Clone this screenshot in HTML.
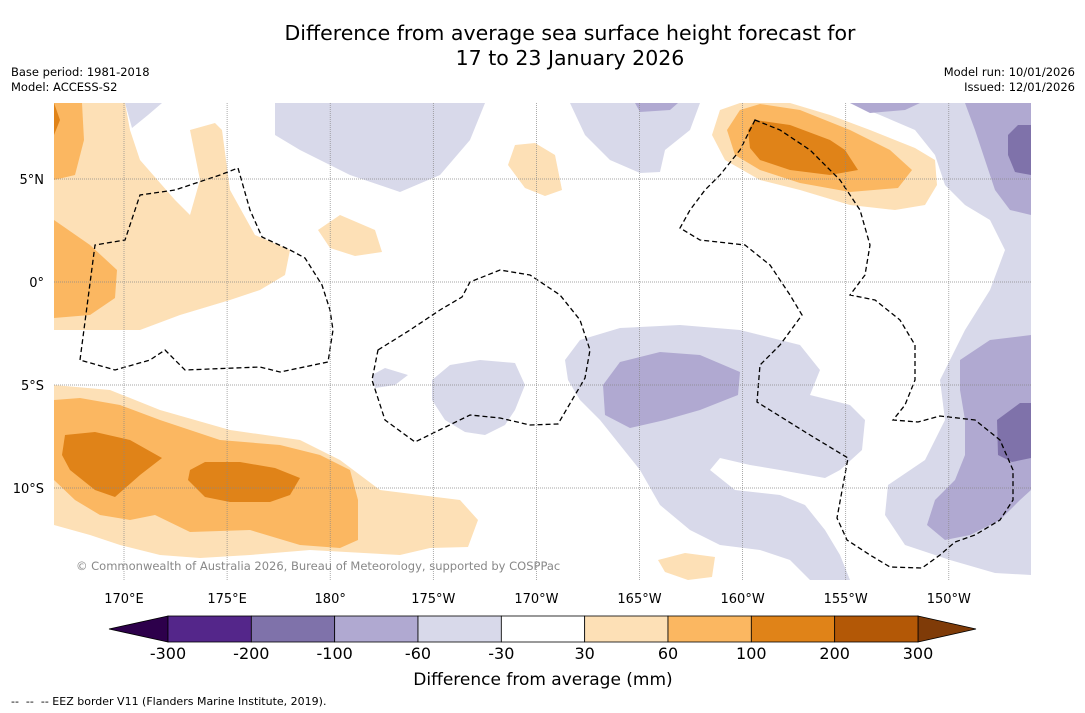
<!DOCTYPE html>
<html><head><meta charset="utf-8">
<style>
body{margin:0;background:#fff;font-family:"DejaVu Sans","Liberation Sans",sans-serif;}
#wrap{position:relative;width:1085px;height:713px;overflow:hidden;}
.t{position:absolute;color:#000;white-space:nowrap;}
</style></head><body>
<div id="wrap">
<div class="t" style="left:0;width:1140px;top:21px;text-align:center;font-size:20.5px;line-height:25px;">Difference from average sea surface height forecast for<br>17 to 23 January 2026</div>
<div class="t" style="left:11px;top:65px;font-size:11.5px;">Base period: 1981-2018</div>
<div class="t" style="left:11px;top:80px;font-size:11.5px;">Model: ACCESS-S2</div>
<div class="t" style="right:10px;top:65px;font-size:11.5px;text-align:right;">Model run: 10/01/2026</div>
<div class="t" style="right:10px;top:80px;font-size:11.5px;text-align:right;">Issued: 12/01/2026</div>
<svg id="map" width="1085" height="713" style="position:absolute;left:0;top:0"></svg>
<div class="t" style="left:11px;top:695px;font-size:11px;">-- &nbsp;-- &nbsp;-- EEZ border V11 (Flanders Marine Institute, 2019).</div>
</div>
<script>
const lonTicks=[170,175,180,-175,-170,-165,-160,-155,-150];
const lonLabels=["170°E","175°E","180°","175°W","170°W","165°W","160°W","155°W","150°W"];
const latTicks=[5,0,-5,-10];
const latLabels=["5°N","0°","5°S","10°S"];
const cbBounds=[-300,-200,-100,-60,-30,30,60,100,200,300];
const cbColors=["#54268a","#7f72aa","#b0a9d1","#d8d9ea","#ffffff","#fde0b6","#fbb761","#e08318","#b35806"];
const FF='DejaVu Sans, Liberation Sans, sans-serif';
const X0=54,X1=1031,Y0=103,Y1=580;
function lx(l){let e=l<0?l+360:l;return 124+(e-170)*20.62;}
function ly(a){return 282-a*20.6;}
const NS="http://www.w3.org/2000/svg";
const svg=document.getElementById('map');
function mk(t,a,p){const e=document.createElementNS(NS,t);for(const k in a)e.setAttribute(k,a[k]);(p||svg).appendChild(e);return e;}
const defs=mk('defs',{});const cp=mk('clipPath',{id:'c'},defs);mk('rect',{x:X0,y:Y0,width:X1-X0,height:Y1-Y0},cp);
const g=mk('g',{'clip-path':'url(#c)'});


const P=(c,pts,name)=>{const e=mk('path',{d:'M'+pts.map(p=>p.join(',')).join('L')+'Z',fill:c},g);

};
const L1="#d8d9ea",L2="#b0a9d1",L3="#7f72aa",O1="#fde0b6",O2="#fbb761",O3="#e08318";
P(L1,[[275,103],[485,103],[470,140],[440,175],[400,192],[350,175],[300,150],[275,135]],'neg-anomaly-area');
P(L1,[[125,103],[162,103],[148,115],[132,128]],'neg-anomaly-area');
P(L1,[[570,103],[700,103],[690,130],[665,150],[660,172],[640,173],[610,160],[585,135]],'neg-anomaly-area');
P(L1,[[850,103],[1031,103],[1031,575],[995,573],[950,560],[905,545],[885,515],[888,485],[925,460],[945,420],[940,380],[965,330],[990,290],[1005,250],[990,220],[965,205],[945,185],[935,155],[915,130],[880,115]],'neg-anomaly-area');
P(L1,[[565,360],[580,340],[620,328],[680,325],[740,330],[800,345],[820,370],[810,395],[850,405],[865,420],[862,450],[840,470],[825,478],[780,470],[750,465],[720,458],[710,470],[735,490],[780,495],[805,505],[825,530],[840,555],[850,580],[810,580],[790,560],[760,550],[720,545],[690,530],[660,505],[640,470],[620,445],[600,420],[580,400],[568,380]],'neg-anomaly-area');
P(L1,[[432,380],[450,365],[480,360],[515,363],[525,385],[515,410],[505,425],[485,435],[465,432],[445,420],[432,400]],'neg-anomaly-area');
P(L1,[[372,375],[385,368],[408,375],[395,385],[375,388]],'neg-anomaly-area');
P(L2,[[603,385],[620,362],[660,352],[700,355],[740,372],[738,395],[700,410],[665,420],[630,428],[605,415]],'neg-anomaly-area');
P(L2,[[635,103],[678,103],[670,110],[640,112]],'neg-anomaly-area');
P(L2,[[850,103],[920,103],[905,110],[870,113]],'neg-anomaly-area');
P(L2,[[965,103],[1031,103],[1031,215],[1010,210],[995,190],[985,160],[975,130]],'neg-anomaly-area');
P(L2,[[960,360],[990,340],[1031,335],[1031,490],[1020,500],[1000,520],[970,535],[945,540],[927,525],[935,500],[955,480],[965,455],[965,420],[960,390]],'neg-anomaly-area');
P(L3,[[1008,135],[1018,125],[1031,125],[1031,175],[1015,172],[1008,155]],'neg-anomaly-area');
P(L3,[[997,420],[1020,403],[1031,403],[1031,458],[1012,462],[998,455]],'neg-anomaly-area');
P(O1,[[54,103],[125,103],[130,130],[140,160],[175,200],[190,215],[200,180],[190,130],[215,123],[222,130],[230,190],[255,235],[290,250],[285,275],[260,290],[230,300],[180,315],[140,330],[100,330],[54,330]],'pos-anomaly-area');
P(O1,[[54,385],[110,390],[160,410],[230,430],[300,440],[340,460],[360,475],[380,490],[420,495],[460,500],[478,520],[468,547],[430,548],[400,555],[310,550],[250,555],[200,558],[160,555],[120,545],[90,535],[54,525]],'pos-anomaly-area');
P(O1,[[318,230],[340,215],[375,230],[382,252],[355,256],[330,248]],'pos-anomaly-area');
P(O1,[[508,165],[515,145],[535,143],[555,155],[562,190],[545,196],[525,188]],'pos-anomaly-area');
P(O1,[[658,560],[685,553],[715,557],[712,577],[688,580],[665,572]],'pos-anomaly-area');
P(O1,[[712,135],[720,110],[740,103],[790,103],[830,115],[870,130],[915,148],[935,160],[937,185],[925,205],[895,210],[850,205],[800,190],[760,180],[725,160]],'pos-anomaly-area');
P(O2,[[54,103],[82,103],[84,140],[75,175],[54,180]],'pos-anomaly-area');
P(O2,[[54,220],[90,245],[117,270],[115,298],[90,315],[54,318]],'pos-anomaly-area');
P(O2,[[54,400],[80,398],[120,405],[160,420],[220,440],[280,445],[320,455],[350,470],[358,500],[358,540],[340,548],[300,545],[250,530],[190,532],[155,515],[130,520],[100,515],[75,500],[54,480]],'pos-anomaly-area');
P(O2,[[727,130],[740,110],[760,104],[800,110],[850,130],[890,150],[912,170],[898,188],[850,192],[800,183],[760,170],[735,155]],'pos-anomaly-area');
P(O3,[[65,435],[95,432],[130,440],[162,458],[140,475],[115,497],[95,490],[70,470],[62,455]],'pos-anomaly-area');
P(O3,[[190,470],[205,462],[240,462],[275,468],[300,478],[290,495],[270,502],[230,502],[205,497],[188,480]],'pos-anomaly-area');
P(O3,[[54,103],[60,120],[54,135]],'pos-anomaly-area');
P(O3,[[748,130],[755,120],[790,125],[830,140],[845,150],[858,170],[830,175],[790,170],[760,160],[750,148]],'pos-anomaly-area');
lonTicks.forEach((l,i)=>{const x=lx(l);
const ln=mk('line',{x1:x,x2:x,y1:Y0,y2:Y1,stroke:'#888','stroke-width':0.7,'stroke-dasharray':'1,1'});


const t=mk('text',{x:x,y:603,'font-size':13,'text-anchor':'middle','font-family':FF});t.textContent=lonLabels[i];

});
latTicks.forEach((a,i)=>{const y=ly(a);
const ln=mk('line',{x1:X0,x2:X1,y1:y,y2:y,stroke:'#888','stroke-width':0.7,'stroke-dasharray':'1,1'});


const t=mk('text',{x:44,y:y+5,'font-size':13,'text-anchor':'end','font-family':FF});t.textContent=latLabels[i];

});
const E=(pts)=>{const e=mk('path',{d:'M'+pts.map(p=>p.join(',')).join('L')+'Z',fill:'none',stroke:'#000','stroke-width':1.3,'stroke-dasharray':'5,3'},g);

};
E([[80,360],[95,245],[125,240],[140,195],[175,190],[220,175],[238,168],[250,210],[262,237],[290,250],[305,258],[322,285],[330,310],[333,330],[328,362],[280,372],[260,367],[185,370],[165,350],[150,360],[115,370]]);
E([[378,350],[410,330],[440,310],[462,297],[470,282],[500,270],[530,275],[560,295],[580,320],[590,350],[585,378],[575,395],[558,424],[530,425],[500,418],[470,415],[415,442],[385,420],[372,380]]);
E([[755,120],[780,130],[810,150],[840,180],[860,210],[870,245],[865,275],[850,295],[875,300],[900,320],[915,345],[915,380],[905,405],[893,420],[918,422],[940,416],[975,420],[1000,440],[1013,470],[1013,500],[1000,520],[975,535],[955,542],[940,555],[922,568],[890,567],[870,555],[847,540],[837,518],[848,458],[810,435],[757,402],[760,365],[780,345],[802,315],[790,295],[770,265],[745,245],[700,240],[680,228],[690,210],[705,190],[720,175],[740,150]]);
const cr=mk('text',{x:76,y:570,'font-size':11.5,fill:'#888','font-family':FF});cr.textContent='© Commonwealth of Australia 2026, Bureau of Meteorology, supported by COSPPac';


const cbX0=168,cbX1=918,cbY=616,cbH=26,w=(cbX1-cbX0)/cbColors.length;
const lt=mk('path',{d:`M${cbX0},${cbY}L109,${cbY+cbH/2}L${cbX0},${cbY+cbH}Z`,fill:'#2d004b',stroke:'#000','stroke-width':0.8});


const rt=mk('path',{d:`M${cbX1},${cbY}L976,${cbY+cbH/2}L${cbX1},${cbY+cbH}Z`,fill:'#7f3b08',stroke:'#000','stroke-width':0.8});


cbColors.forEach((c,i)=>{const r=mk('rect',{x:cbX0+i*w,y:cbY,width:w,height:cbH,fill:c,stroke:'#000','stroke-width':0.8});

});
cbBounds.forEach((v,i)=>{const t=mk('text',{x:cbX0+i*w,y:cbY+cbH+17,'font-size':16,'text-anchor':'middle','font-family':FF});t.textContent=v;

});
const ct=mk('text',{x:543,y:685,'font-size':17,'text-anchor':'middle','font-family':FF});ct.textContent='Difference from average (mm)';


</script>
</body></html>
